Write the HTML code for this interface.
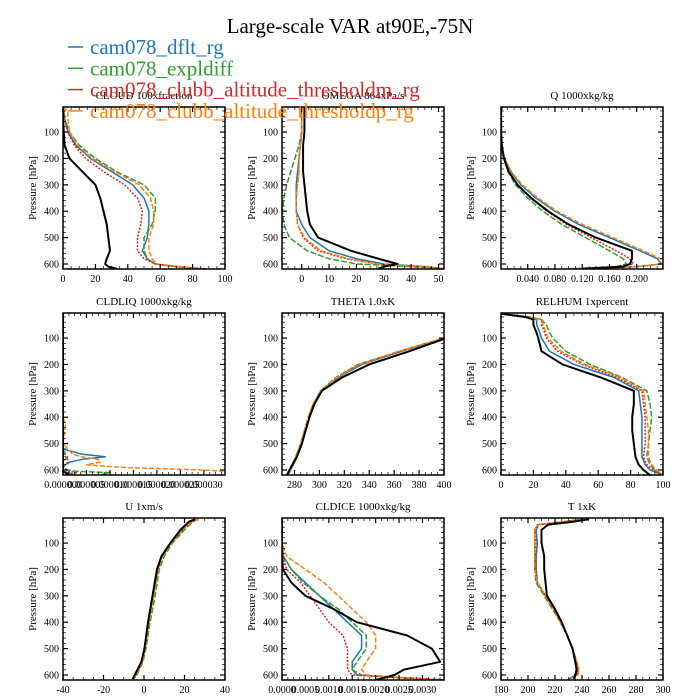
<!DOCTYPE html>
<html><head><meta charset="utf-8">
<style>
body{margin:0;background:#fff;}
svg{display:block;font-family:"Liberation Serif",serif;}
</style></head>
<body>
<svg id="chart" width="700" height="700" xmlns="http://www.w3.org/2000/svg">
<rect width="700" height="700" fill="#fff"/>
<text x="350" y="33" font-size="21" text-anchor="middle">Large-scale VAR at90E,-75N</text>
<g id="panels"></g>
<g id="legend"></g>
</svg>
<script>
// ---- series metadata ----
const seriesNames = ["cam078_dflt_rg","cam078_expldiff","cam078_clubb_altitude_thresholdm_rg","cam078_clubb_altitude_thresholdp_rg","obs"];
const seriesColors = ["#1f77b4","#2ca02c","#d62728","#ff7f0e","#000000"];
const seriesDash = ["", "6,2", "2,1.5", "5,2", ""];

// ---- CLOUD ----
const cloudLevels = [5,20,50,100,150,200,250,300,350,400,450,500,550,580,600,610,618];
const cloudBlue   = [0,0.5,1,3,8,17,30,43,50,53,53,52,49,52,57,70,85];
const cloudGreen  = [0,0.5,1,4,10,20,33,50,57,57,55,50,50,52,57,70,88];
const cloudRed    = [0,0.5,1,3,7,14,25,38,46,49,48,46,46,50,57,70,85];
const cloudOrange = [0,3,3,4,9,18,32,47,54,56,56,53,53,55,58,72,85];
const cloudBlack  = [0,0,0,0.5,1,4,12,20,23,25,27,28,29,27,26,28,33];
const cloudTicks = [0,20,40,60,80,100];

// ---- OMEGA ----
const omegaLevels = [5,20,50,100,150,200,250,300,350,400,450,500,550,580,600,610,618];
const omegaBlue   = [0,0,0,0,-0.5,-1,-1.5,-2,-2,-2,0,3,10,20,30,45,52];
const omegaGreen  = [0,0,0,0,-1,-2.5,-4,-5.5,-6.5,-7,-6.5,-4.5,2,10,20,40,52];
const omegaRed    = [0,0,0,0,-0.5,-1,-1,-1.5,-2,-2,-1.5,0.5,6,16,28,45,52];
const omegaOrange = [0,0,0,0,-0.5,-1,-1,-1.5,-2,-2,-1.5,1,7,17,28,44,51];
const omegaBlack  = [1,1,1,1,0.5,0.5,0.5,1,1.5,2,3,6,18,28,35,30,28];
const omegaTicks = [0,10,20,30,40,50];

// ---- Q ----
const qLevels = [5,20,50,100,150,200,250,300,350,400,450,500,550,580,600,610,618];
const qBlue   = [0.002,0.001,0.001,0.001,0.002,0.006,0.015,0.03,0.052,0.08,0.115,0.16,0.205,0.23,0.236,0.2,0.12];
const qGreen  = [0.002,0.001,0.001,0.001,0.002,0.005,0.011,0.022,0.04,0.062,0.09,0.125,0.16,0.18,0.185,0.17,0.14];
const qRed    = [0.002,0.001,0.001,0.001,0.002,0.005,0.012,0.025,0.045,0.068,0.097,0.133,0.17,0.19,0.195,0.17,0.1];
const qOrange = [0.002,0.001,0.001,0.001,0.002,0.006,0.016,0.032,0.055,0.083,0.12,0.165,0.21,0.235,0.238,0.2,0.1];
const qBlack  = [0.002,0.001,0.001,0.001,0.002,0.005,0.012,0.025,0.045,0.07,0.1,0.14,0.193,0.193,0.19,0.18,0.12];
const qTicks = [0.04,0.08,0.12,0.16,0.2];
const qTickLabels = ["0.040","0.080","0.120","0.160","0.200"];

// ---- CLDLIQ ----
const liqLevels = [5,400,430,500,520,540,550,560,570,580,590,600,605,610,615,619];
const liqBlue   = [0,0,0,0,0,0.000004,0.000009,0.000004,0.0000015,0.0000005,0,0,0,0.000001,0.000002,0.000002];
const liqGreen  = [0,0,0,0,0,0.0000005,0.000001,0.0000005,0,0,0,0.000001,0.000003,0.00001,0.000009,0.000008];
const liqRed    = [0,0,0,0,0,0,0.0000005,0.000001,0.000001,0.0000005,0,0.0000005,0.000001,0.000003,0.000002,0.000002];
const liqOrange = [0,0,0.0000005,0,0.000001,0.000002,0.000004,0.0000075,0.000008,0.000005,0.000012,0.00003,0.000034,0.000034,0.000034,0.000034];
const liqBlack  = [0,0,0,0,0,0,0,0,0,0,0,0,0,0.0000005,0.000001,0.000001];
const liqTicks = [0,0.000005,0.00001,0.000015,0.00002,0.000025,0.00003];
const liqTickLabels = ["0.000000","0.000005","0.000010","0.000015","0.000020","0.000025","0.000030"];

// ---- THETA ----
const thLevels = [100,150,200,250,300,350,400,450,500,550,600,619];
const thBlue   = [400,366,334,315,302,296,292,289,286,282,277,275];
const thGreen  = [400,364,331,313,301,295,291,288,285,281,276,274];
const thRed    = [400,365,333,314,302,296,292,289,286,282,277,275];
const thOrange = [400,364,332,314,301,295,291,288,285,281,277,275];
const thBlack  = [402,372,340,318,302,296,292,289,286,282,276,274];
const thTicks = [280,300,320,340,360,380,400];

// ---- RELHUM ----
const rhLevels = [8,20,30,50,80,100,150,200,250,300,350,400,450,500,550,580,600,619];
const rhBlue   = [0,15,22,22,24,25,30,45,70,85,86,87,87,87,87,89,92,100];
const rhGreen  = [0,18,25,28,30,32,40,55,75,90,92,93,92,91,90,92,95,100];
const rhRed    = [0,16,25,25,27,28,35,50,72,87,88,89,89,89,88,90,94,100];
const rhOrange = [0,17,25,26,28,29,37,52,74,88,89,90,91,91,91,93,96,100];
const rhBlack  = [0,15,20,20,22,23,25,38,62,82,82,81,81,82,83,85,88,92];
const rhTicks = [0,20,40,60,80,100];

// ---- U ----
const uLevels = [10,20,50,100,150,200,300,400,500,550,600,615];
const uBlue   = [26,23,18.5,13,8.6,6.4,4.2,2,0.2,-1.3,-4.6,-5.7];
const uGreen  = [27,24,20,14,10,7.5,5.5,3,1,-0.5,-3.5,-5];
const uRed    = [26,23,19,13.5,9,6.8,4.6,2.3,0.5,-1,-4,-5.5];
const uOrange = [27,23.5,19,13.5,9,7,4.8,2.5,0.6,-0.8,-3.8,-5.3];
const uBlack  = [25,22,18,13,8.6,6.4,4.2,2,0.2,-1.3,-4.6,-5.7];
const uTicks = [-40,-20,0,20,40];

// ---- CLDICE ----
const iceLevels = [5,100,150,200,250,300,350,400,450,500,550,580,600,610,619];
const iceBlue   = [0,0,0.00003,0.0002,0.0005,0.0008,0.0011,0.0014,0.0017,0.0017,0.0015,0.0015,0.0016,0.0025,0.0035];
const iceGreen  = [0,0,0.00003,0.0002,0.00045,0.0008,0.0012,0.0015,0.0018,0.0018,0.0016,0.0015,0.0017,0.0025,0.0035];
const iceRed    = [0,0,0.00002,0.0001,0.0004,0.0006,0.0008,0.001,0.0013,0.0014,0.0014,0.0014,0.0015,0.0025,0.0035];
const iceOrange = [0,0,0.0001,0.0005,0.0009,0.0012,0.0015,0.0018,0.002,0.002,0.0018,0.0017,0.0018,0.0026,0.0035];
const iceBlack  = [0,0,0,0.00002,0.0002,0.0005,0.0011,0.0016,0.00267,0.0032,0.00338,0.0026,0.0024,0.0022,0.002];
const iceTicks = [0,0.0005,0.001,0.0015,0.002,0.0025,0.003];
const iceTickLabels = ["0.0000","0.0005","0.0010","0.0015","0.0020","0.0025","0.0030"];

// ---- T ----
const tLevels = [10,20,30,50,100,150,200,250,300,350,400,450,500,550,580,600,615];
const tBlue   = [240,225,208,206,207,206,206,207,213,219,224,229,233,236,237,236,230];
const tGreen  = [240,225,207,205,205,205,205,206,212,218,224,229,233,236,237,237,231];
const tRed    = [240,225,208,205,206,206,206,207,213,219,224,229,233,236,237,236,230];
const tOrange = [241,226,208,205,205,205,205,207,213,219,224,229,233,236,238,237,231];
const tBlack  = [245,232,215,210,210,212,212,213,214,220,225,229,233,235,236,235,234];
const tTicks = [180,200,220,240,260,280,300];

const pTicks = [100,200,300,400,500,600];

const panels = [
 {name:"cloud", title:"CLOUD  100xfraction", col:0,row:0, xmin:0,xmax:100, levels:cloudLevels, series:[cloudBlue,cloudGreen,cloudRed,cloudOrange,cloudBlack], ticks:cloudTicks, labels:null},
 {name:"omega", title:"OMEGA  864xPa/s", col:1,row:0, xmin:-7.2,xmax:52, levels:omegaLevels, series:[omegaBlue,omegaGreen,omegaRed,omegaOrange,omegaBlack], ticks:omegaTicks, labels:null},
 {name:"q", title:"Q  1000xkg/kg", col:2,row:0, xmin:0.0008,xmax:0.2386, levels:qLevels, series:[qBlue,qGreen,qRed,qOrange,qBlack], ticks:qTicks, labels:qTickLabels},
 {name:"cldliq", title:"CLDLIQ  1000xkg/kg", col:0,row:1, xmin:0,xmax:0.0000345, levels:liqLevels, series:[liqBlue,liqGreen,liqRed,liqOrange,liqBlack], ticks:liqTicks, labels:liqTickLabels},
 {name:"theta", title:"THETA  1.0xK", col:1,row:1, xmin:270,xmax:400, levels:thLevels, series:[thBlue,thGreen,thRed,thOrange,thBlack], ticks:thTicks, labels:null},
 {name:"relhum", title:"RELHUM  1xpercent", col:2,row:1, xmin:0,xmax:100, levels:rhLevels, series:[rhBlue,rhGreen,rhRed,rhOrange,rhBlack], ticks:rhTicks, labels:null},
 {name:"u", title:"U  1xm/s", col:0,row:2, xmin:-40,xmax:40, levels:uLevels, series:[uBlue,uGreen,uRed,uOrange,uBlack], ticks:uTicks, labels:null},
 {name:"cldice", title:"CLDICE  1000xkg/kg", col:1,row:2, xmin:0,xmax:0.00346, levels:iceLevels, series:[iceBlue,iceGreen,iceRed,iceOrange,iceBlack], ticks:iceTicks, labels:iceTickLabels},
 {name:"t", title:"T  1xK", col:2,row:2, xmin:180,xmax:300, levels:tLevels, series:[tBlue,tGreen,tRed,tOrange,tBlack], ticks:tTicks, labels:null}
];

const NS="http://www.w3.org/2000/svg";
const colX=[63,282,501], rowY=[107,313,518], W=162, H=162;
const pTop=5, pBot=619;
function mk(tag,attrs,parent){const e=document.createElementNS(NS,tag);for(const k in attrs)e.setAttribute(k,attrs[k]);if(parent)parent.appendChild(e);return e;}
const root=document.getElementById("panels");

panels.forEach(P=>{
  const x0=colX[P.col], y0=rowY[P.row];
  const sx=v=>x0+(v-P.xmin)/(P.xmax-P.xmin)*W;
  const sy=p=>y0+(p-pTop)/(pBot-pTop)*H;
  const g=mk("g",{},root);
  
  
  const cid="clip-"+P.name;
  const cp=mk("clipPath",{id:cid},g); mk("rect",{x:x0,y:y0,width:W,height:H},cp);
  const t=mk("text",{x:x0+W/2,y:y0-8,"font-size":"11","text-anchor":"middle"},g);
  t.textContent=P.title;
  
  
  const yl=mk("text",{x:0,y:0,"font-size":"11","text-anchor":"middle",transform:`translate(${x0-27},${y0+H/2}) rotate(-90)`},g);
  yl.textContent="Pressure [hPa]";
  
  
  // series
  const sg=mk("g",{"clip-path":`url(#${cid})`},g);
  P.series.forEach((vals,i)=>{
    const d=vals.map((v,k)=>(k?"L":"M")+sx(v).toFixed(2)+","+sy(P.levels[k]).toFixed(2)).join("");
    const path=mk("path",{d:d,fill:"none",stroke:seriesColors[i],"stroke-width":i==4?2:1.5,"stroke-linejoin":"round"},sg);
    if(seriesDash[i]) path.setAttribute("stroke-dasharray",seriesDash[i]);
    
    
  });
  // frame
  const fr=mk("rect",{x:x0,y:y0,width:W,height:H,fill:"none",stroke:"#000","stroke-width":1.5},g);
  
  
  // y ticks
  for(let p=20;p<=pBot;p+=20){
    const y=sy(p), major=p%100==0, L=major?5:3;
    mk("line",{x1:x0,x2:x0+L,y1:y,y2:y,stroke:"#000","stroke-width":major?1.2:0.7},g);
    mk("line",{x1:x0+W,x2:x0+W-L,y1:y,y2:y,stroke:"#000","stroke-width":major?1.2:0.7},g);
  }
  pTicks.forEach(p=>{
    const tl=mk("text",{x:x0-4,y:sy(p)+3.5,"font-size":"10","text-anchor":"end"},g);
    tl.textContent=p;
    
    
  });
  // x ticks
  const step=P.ticks.length>1?P.ticks[1]-P.ticks[0]:1;
  const minor=step/4;
  for(let k=-8;k<=200;k++){
    const v=P.ticks[0]+k*minor;
    if(v<P.xmin-1e-12||v>P.xmax+1e-12) continue;
    const x=sx(v), major=(k%4==0), L=major?5:3;
    mk("line",{x1:x,x2:x,y1:y0+H,y2:y0+H-L,stroke:"#000","stroke-width":major?1.2:0.7},g);
    mk("line",{x1:x,x2:x,y1:y0,y2:y0+L,stroke:"#000","stroke-width":major?1.2:0.7},g);
  }
  P.ticks.forEach((v,i)=>{
    const tl=mk("text",{x:sx(v),y:y0+H+13,"font-size":"10","text-anchor":"middle"},g);
    tl.textContent=P.labels?P.labels[i]:String(v);
    
    
  });
});

// legend
const lg=document.getElementById("legend");
for(let i=0;i<4;i++){
  const y=47+i*21.3;
  const ln=mk("line",{x1:68,x2:83,y1:y,y2:y,stroke:seriesColors[i],"stroke-width":1.5},lg);
  
  
  const tx=mk("text",{x:90,y:y+7,"font-size":"21",fill:seriesColors[i]},lg);
  tx.textContent=seriesNames[i];
  
  
}
</script>
</body></html>
